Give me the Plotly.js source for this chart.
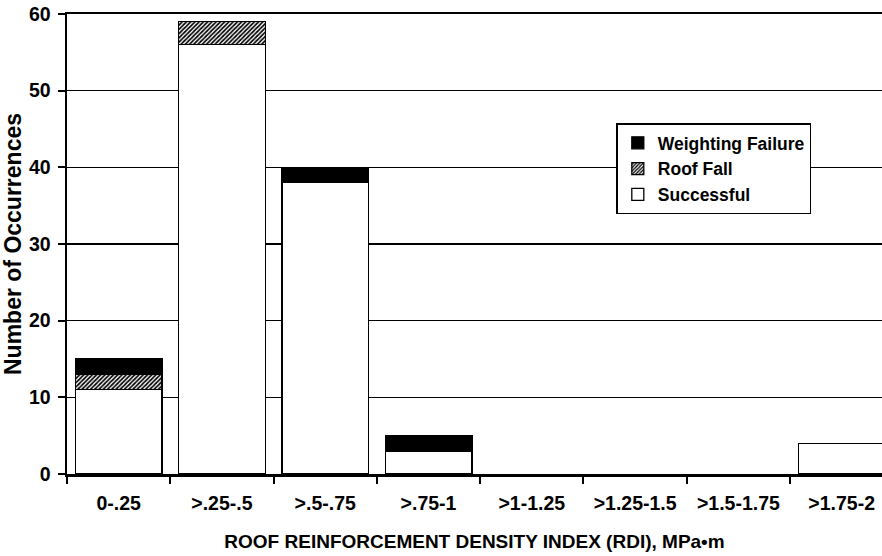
<!DOCTYPE html>
<html>
<head>
<meta charset="utf-8">
<script src="https://cdn.plot.ly/plotly-3.0.1.min.js"></script>
<style>
  html, body { margin: 0; padding: 0; background: #fff; }
  #chart { width: 882px; height: 556px; }
</style>
</head>
<body>
<div id="chart"></div>
<script>
// RDI bins (MPa·m)
const categories = ['0-.25', '>.25-.5', '>.5-.75', '>.75-1', '>1-1.25', '>1.25-1.5', '>1.5-1.75', '>1.75-2'];

// counts per bin
const successful = [11, 56, 38, 3, 0, 0, 0, 4];
const roofFall = [2, 3, 0, 0, 0, 0, 0, 0];
const weightingFailure = [2, 0, 2, 2, 0, 0, 0, 0];

const yTicks = [0, 10, 20, 30, 40, 50, 60];

const FONT = 'Liberation Sans, Arial, sans-serif';
const outline = { color: 'black', width: 1.3 };

// empty bins get no bar at all (otherwise the outline draws a line on the axis)
function skipZero(arr) {
    return arr.map(v => v === 0 ? null : v);
}

let traceSuccess = {
    x: categories,
    y: skipZero(successful),
    type: 'bar',
    name: 'Successful',
    marker: { color: 'white', line: outline },
    hoverinfo: 'x+y'
};

let traceRoof = {
    x: categories,
    y: skipZero(roofFall),
    type: 'bar',
    name: 'Roof Fall',
    marker: {
        color: 'white',
        line: outline,
        pattern: { shape: '/', fgcolor: 'black', bgcolor: 'white', size: 3, solidity: 0.55 }
    },
    hoverinfo: 'x+y'
};

let traceWeight = {
    x: categories,
    y: skipZero(weightingFailure),
    type: 'bar',
    name: 'Weighting Failure',
    marker: { color: 'black', line: outline },
    hoverinfo: 'x+y'
};

let layout = {
    width: 882,
    height: 556,
    margin: { l: 67, r: 0, t: 14, b: 82 },
    paper_bgcolor: 'white',
    plot_bgcolor: 'white',
    barmode: 'stack',
    bargap: 0.16,
    font: { family: FONT, color: 'black' },
    xaxis: {
        type: 'category',
        range: [-0.5, 7.39],
        showline: true,
        linecolor: 'black',
        linewidth: 2.5,
        mirror: true,
        ticks: 'outside',
        tickson: 'boundaries',
        ticklen: 7,
        tickwidth: 2,
        tickcolor: 'black',
        showgrid: false,
        ticklabelstandoff: 10,
        tickfont: { family: FONT, size: 19.5, weight: 'bold' },
        title: {
            text: 'ROOF REINFORCEMENT DENSITY INDEX (RDI), MPa•m',
            font: { family: FONT, size: 19, weight: 'bold' },
            standoff: 22
        }
    },
    yaxis: {
        range: [0, 60],
        tickvals: yTicks,
        showline: true,
        linecolor: 'black',
        linewidth: 2.5,
        ticks: 'outside',
        ticklen: 7,
        tickwidth: 2,
        tickcolor: 'black',
        showgrid: true,
        gridcolor: 'black',
        gridwidth: 1.5,
        zeroline: false,
        ticklabelstandoff: 3,
        tickfont: { family: FONT, size: 19.5, weight: 'bold' },
        title: {
            text: 'Number of Occurrences',
            font: { family: FONT, size: 23, weight: 'bold' },
            standoff: 4
        }
    },
    legend: {
        x: 0.674,
        y: 0.762,
        xanchor: 'left',
        yanchor: 'top',
        traceorder: 'reversed',
        bgcolor: 'white',
        bordercolor: 'black',
        borderwidth: 1.5,
        font: { family: FONT, size: 17.5, weight: 'bold' },
        itemwidth: 30,
        tracegroupgap: 0
    },
    showlegend: true
};

Plotly.newPlot('chart', [traceSuccess, traceRoof, traceWeight], layout, { displayModeBar: false, staticPlot: true });
</script>
</body>
</html>
